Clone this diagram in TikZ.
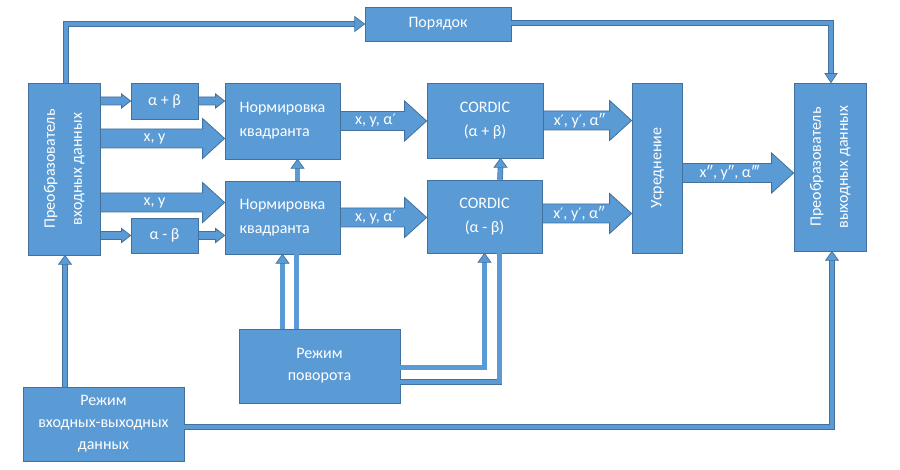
\documentclass[tikz,border=0pt]{standalone}
\usepackage{fontspec}
\setmainfont{Carlito}
\newfontfamily\shtrih[Scale=0.9]{DejaVu Sans}
\usepackage{graphicx}
\usepackage{tikz}
\usetikzlibrary{calc}
\definecolor{sinij}{RGB}{91,155,213}
\definecolor{kraj}{RGB}{65,113,156}

\newcommand{\tolstaja}[6]{%
  \draw[kontur] let \p1=#1, \p2=#2 in
    (\x1,\y1+#3pt) -- (\x2-#5pt,\y1+#3pt) -- (\x2-#5pt,\y1+#4pt) -- (\x2,\y1)
    -- (\x2-#5pt,\y1-#4pt) -- (\x2-#5pt,\y1-#3pt) -- (\x1,\y1-#3pt) -- cycle
    ({(\x1+\x2-#5pt)/2+3pt},\y1) node[metka] {#6};}
\newcommand{\mala}[2]{\tolstaja{#1}{#2}{4}{7}{9}{}}
\newcommand{\bolsh}[3]{\tolstaja{#1}{#2}{9.5}{20}{22}{#3}}
\newcommand{\nakV}[1]{\draw[nakon] #1 -- ++(-6.5,9) -- ++(13,0) -- cycle;}
\newcommand{\nakN}[1]{\draw[nakon] #1 -- ++(-6,-9) -- ++(12,0) -- cycle;}
\newcommand{\nakP}[1]{\draw[nakon] #1 -- ++(-10,-7.5) -- ++(0,15) -- cycle;}
\newcommand{\povernut}[1]{\rotatebox{90}{\begin{tabular}{@{}c@{}}#1\end{tabular}}}
\newcommand{\pr}{{\shtrih ′}}

\begin{document}
\begin{tikzpicture}[x=1pt, y=-1pt,
    blok/.style={draw=kraj, fill=sinij, line width=0.8pt, text=white, inner sep=0pt, align=center, font=\fontsize{16}{22}\selectfont},
    kontur/.style={draw=kraj, fill=sinij, line width=0.8pt, line join=miter},
    metka/.style={text=white, inner sep=0pt, font=\fontsize{16}{18}\selectfont},
    svyaz/.style={draw=kraj, line width=0.7pt, double=sinij, double distance=4.2pt},
    nakon/.style={draw=kraj, fill=sinij, line width=0.7pt, line join=miter}
  ]
    \useasboundingbox (0,0) rectangle (900,470);
    \node[blok, minimum width=72pt, minimum height=172pt] (vhod) at (64,169) {\povernut{Преобразователь\\[5pt]входных данных}};
    \node[blok, minimum width=67pt, minimum height=36pt] (plus) at (164.5,101) {α + β};
    \node[blok, minimum width=67pt, minimum height=35pt] (minus) at (164.5,235.5) {α - β};
    \node[blok, align=left, minimum width=115pt, minimum height=76pt] (normA) at (282.5,121) {Нормировка\\[2pt]квадранта};
    \node[blok, align=left, minimum width=115pt, minimum height=73pt] (normB) at (282.5,217.5) {Нормировка\\[2pt]квадранта};
    \node[blok, minimum width=116pt, minimum height=75pt] (cordA) at (485,120.5) {CORDIC\\[2pt](α + β)};
    \node[blok, minimum width=115pt, minimum height=73pt] (cordB) at (484.5,216.5) {CORDIC\\[2pt](α - β)};
    \node[blok, minimum width=50pt, minimum height=170pt] (usr) at (657,168) {\povernut{Усреднение}};
    \node[blok, minimum width=72pt, minimum height=168pt] (vyhod) at (830,167) {\povernut{Преобразователь\\[5pt]выходных данных}};
    \node[blok, minimum width=146pt, minimum height=34pt] (poryadok) at (438,24) {Порядок};
    \node[blok, minimum width=161pt, minimum height=74pt] (povorot) at (319.5,366) {Режим\\поворота};
    \node[blok, minimum width=161pt, minimum height=74pt] (rezhim) at (103.5,424) {Режим\\входных-выходных\\данных};

    \mala{(vhod.east |- plus.west)}{(plus.west)}
    \mala{(plus.east)}{(normA.west)}
    \mala{(vhod.east |- minus.west)}{(minus.west)}
    \mala{(minus.east)}{(normB.west)}
    \bolsh{(vhod.east |- 0,138.5)}{(normA.west)}{x, y}
    \bolsh{(vhod.east |- 0,202.5)}{(normB.west)}{x, y}
    \bolsh{(normA.east)}{(cordA.west)}{x, y, α\pr}
    \bolsh{(normB.east)}{(cordB.west)}{x, y, α\pr}
    \bolsh{(cordA.east)}{(usr.west)}{x\pr, y\pr, α″}
    \bolsh{(cordB.east |- 0,213.5)}{(usr.west)}{x\pr, y\pr, α″}
    \bolsh{(usr.east |- 0,173)}{(vyhod.west)}{x″, y″, α‴}

    \draw[svyaz] ([xshift=2pt]vhod.north) |- ([xshift=-10pt]poryadok.west);
    \nakP{(poryadok.west)}
    \draw[svyaz] ([yshift=1pt]poryadok.east) -| ([xshift=1pt,yshift=9pt]vyhod.north);
    \nakN{([xshift=1pt]vyhod.north)}
    \draw[svyaz] ([xshift=15pt]normB.north) -- ([xshift=15pt,yshift=-9pt]normA.south);
    \nakV{([xshift=15pt]normA.south)}
    \draw[svyaz] ([xshift=15.5pt]cordB.north) -- ([xshift=15.5pt,yshift=-9pt]cordA.south);
    \nakV{([xshift=15.5pt]cordA.south)}
    \draw[svyaz] (povorot.north -| normB.south) -- ([yshift=-9pt]normB.south);
    \nakV{(normB.south)}
    \draw[svyaz] let \p1=([xshift=14pt]normB.south), \p2=(povorot.north) in (\x1,\y2) -- (\p1);
    \draw[svyaz] ([yshift=-1.5pt]povorot.east) -| ([yshift=-9pt]cordB.south);
    \nakV{(cordB.south)}
    \draw[svyaz] ([yshift=-16pt]povorot.east) -| ([xshift=15pt]cordB.south);
    \draw[svyaz] let \p1=([xshift=1pt]vhod.south), \p2=(rezhim.north) in (\x1,\y2) -- (\x1,\y1-9pt);
    \nakV{([xshift=1pt]vhod.south)}
    \draw[svyaz] ([yshift=-3pt]rezhim.east) -| ([xshift=2pt,yshift=-9pt]vyhod.south);
    \nakV{([xshift=2pt]vyhod.south)}
  \end{tikzpicture}
\end{document}
